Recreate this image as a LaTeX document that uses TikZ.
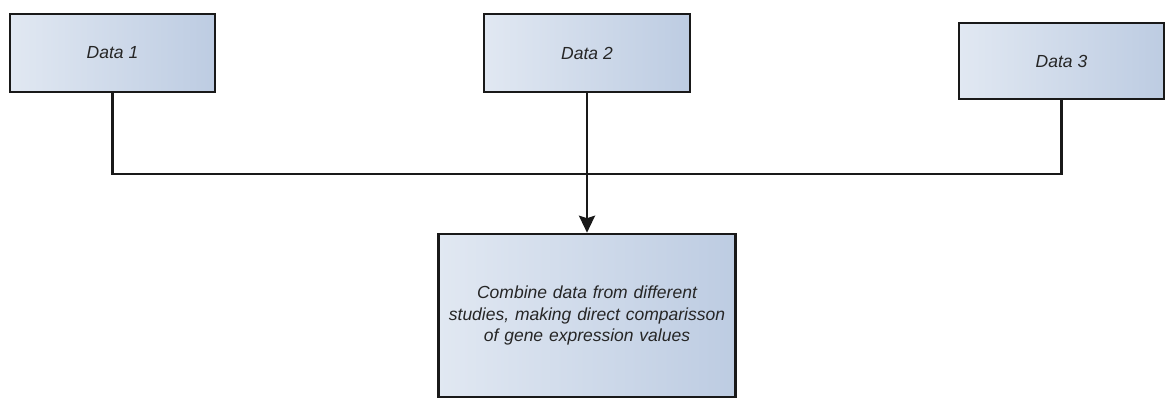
\documentclass[tikz,border=0pt]{standalone}
\usepackage{fontspec}
\setmainfont{Liberation Sans}
\usetikzlibrary{arrows.meta}
\begin{document}
\begin{tikzpicture}[x=1pt,y=-1pt,
  box/.style={draw=black!90, line width=2.6pt, shading=axis,
    left color=boxlight, right color=boxdark, shading angle=90,
    font=\fontsize{17.5}{21.7}\selectfont\itshape, text=black!85,
    align=center, inner sep=0pt},
  link/.style={draw=black!90, line width=2.6pt}]
\definecolor{boxlight}{HTML}{E1E8F2}
\definecolor{boxdark}{HTML}{BDCCE2}
\useasboundingbox (0,0) rectangle (1168,399);

% source data boxes
\node[box, minimum width=205pt, minimum height=78pt] (d1) at (112.5,53) {Data 1};
\node[box, minimum width=206pt, minimum height=78pt] (d2) at (587,53) {Data 2};
\node[box, minimum width=205pt, minimum height=76pt] (d3) at (1061.5,61) {Data 3};

% combined result box
\node[box, minimum width=297pt, minimum height=163pt, text width=290pt] (res) at (587,315.5)
  {Combine data from different\\studies, making direct comparisson\\of gene expression values};

% bus joining the sources
\coordinate (bus) at (587,174);
\draw[link] (d1.south) |- (bus) -| (d3.south);
\draw[link, -{Stealth[length=17pt,width=16pt,inset=2.5pt]}] (d2.south) -- (res.north);
\end{tikzpicture}
\end{document}
